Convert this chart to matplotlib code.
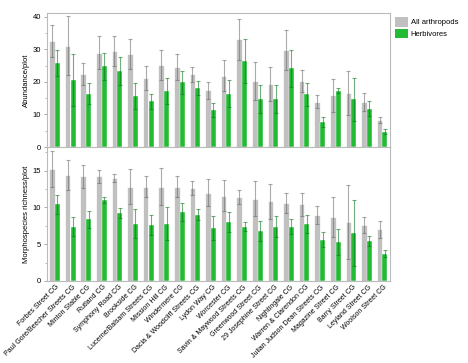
import matplotlib
matplotlib.use('Agg')
import matplotlib.pyplot as plt
import numpy as np
from matplotlib.ticker import MultipleLocator
from matplotlib.patches import Patch

plt.rcParams['font.family'] = ['Liberation Sans', 'DejaVu Sans']

sites = ['Forbes Street CG', 'Paul Gore/Beecher Streets CG', 'Minton Stable CG', 'Rutland CG',
         'Symphony Road CG', 'Brookside CG', 'Lucerne/Balsam Streets CG', 'Mission Hill CG',
         'Windermere CG', 'Dacia & Woodcliff Streets CG', 'Lydon Way CG', 'Worcester CG',
         'Savin & Maywood Streets CG', 'Greenwood Street CG', '29 Josephine Street CG',
         'Nightingale CG', 'Warren & Clarendon CG', 'Julian Judson Dean Streets CG',
         'Magazine Street CG', 'Barry Street CG', 'Leyland Street CG', 'Woolson Street CG']

# abundance per plot (mean, se)
abund_all = [32.5, 31.1, 22.4, 29.0, 29.5, 28.5, 21.3, 25.1, 24.5, 22.3, 17.4,
             21.9, 33.0, 20.2, 19.3, 29.7, 20.2, 13.9, 15.9, 16.5, 13.9, 8.3]
abund_all_se = [5.0, 9.0, 3.5, 5.1, 4.7, 4.7, 3.7, 4.6, 4.0, 2.4, 2.7,
                4.8, 6.4, 5.8, 5.3, 6.2, 3.4, 2.0, 5.0, 6.7, 2.7, 1.0]
abund_herb = [25.8, 20.7, 16.4, 24.8, 23.3, 15.8, 14.1, 17.2, 19.9, 18.1, 11.3,
              16.4, 26.5, 14.7, 14.7, 24.1, 16.2, 7.7, 17.3, 14.6, 11.7, 4.7]
abund_herb_se = [4.1, 8.0, 3.2, 4.2, 4.2, 4.0, 2.3, 4.1, 3.5, 2.1, 2.2,
                 4.1, 6.7, 4.3, 4.4, 5.8, 3.5, 1.5, 0.7, 6.6, 2.3, 0.85]

# morphospecies richness per plot (mean, se)
rich_all = [15.2, 14.4, 14.2, 14.2, 14.0, 12.8, 12.8, 12.8, 12.8, 12.6, 12.0,
            11.6, 11.4, 11.2, 10.8, 10.6, 10.4, 9.0, 8.7, 8.0, 7.6, 7.0]
rich_all_se = [2.4, 2.0, 1.6, 0.85, 0.5, 2.4, 1.4, 2.5, 1.4, 0.95, 1.8,
               2.1, 0.9, 2.4, 2.4, 1.3, 1.6, 1.2, 2.7, 5.0, 1.1, 1.1]
rich_herb = [10.4, 7.4, 8.4, 11.0, 9.2, 7.8, 7.6, 7.8, 9.4, 9.0, 7.2,
             8.0, 7.4, 6.8, 7.4, 7.4, 7.7, 5.6, 5.3, 6.5, 5.4, 3.7]
rich_herb_se = [1.3, 1.25, 1.15, 0.4, 0.7, 2.0, 1.3, 2.3, 1.2, 0.75, 1.6,
                1.35, 0.65, 1.4, 1.45, 1.0, 1.2, 1.05, 1.8, 4.5, 0.7, 0.45]

gray = '#c0c0c0'
green = '#22bb33'
spine_col = '#bbbbbb'

fig = plt.figure(figsize=(4.68, 3.63), dpi=100)
ax1 = fig.add_axes([0.0998, 0.595, 0.733, 0.368])
ax2 = fig.add_axes([0.0998, 0.226, 0.733, 0.369])

x = np.arange(len(sites))


def draw(ax, a, a_se, h, h_se, ymax, major, ylabel):
    ax.bar(x - 0.155, a, width=0.36, color=gray, edgecolor='white', linewidth=0.5, zorder=2)
    ax.bar(x + 0.19, h, width=0.32, color=green, edgecolor='white', linewidth=0.3, zorder=2)
    ax.errorbar(x - 0.155, a, yerr=a_se, fmt='none', ecolor='#666666', alpha=0.55,
                elinewidth=0.8, capsize=1.5, capthick=0.8, zorder=3)
    ax.errorbar(x + 0.19, h, yerr=h_se, fmt='none', ecolor='#117a22', alpha=0.6,
                elinewidth=0.8, capsize=1.2, capthick=0.8, zorder=3)
    ax.set_xlim(-0.5, len(sites) - 0.5)
    ax.set_ylim(0, ymax)
    ax.yaxis.set_major_locator(MultipleLocator(major))
    ax.yaxis.set_minor_locator(MultipleLocator(major / 2))
    ax.tick_params(axis='y', which='major', labelsize=5.5, length=2.5, width=0.5,
                   color='#888888', pad=1.5)
    ax.tick_params(axis='y', which='minor', length=1.5, width=0.4, color='#888888')
    ax.tick_params(axis='x', length=0)
    for s in ax.spines.values():
        s.set_color(spine_col)
        s.set_linewidth(0.8)
    ax.set_ylabel(ylabel, fontsize=5.5, labelpad=2)


draw(ax1, abund_all, abund_all_se, abund_herb, abund_herb_se, 41, 10, 'Abundance/plot')
draw(ax2, rich_all, rich_all_se, rich_herb, rich_herb_se, 18.2, 5, 'Morphospecies richness/plot')
ax1.set_xticks(x)
ax1.set_xticklabels([])
ax2.set_xticks(x + 0.1)
ax2.set_xticklabels(sites, rotation=45, ha='right', rotation_mode='anchor', fontsize=5)
ax2.tick_params(axis='x', pad=2)
ax2.set_yticks([0, 5, 10, 15])

handles = [Patch(facecolor=gray, label='All arthropods'), Patch(facecolor=green, label='Herbivores')]
fig.legend(handles=handles, loc='upper left', bbox_to_anchor=(0.838, 0.962), frameon=False,
           fontsize=5.5, handlelength=1.7, handleheight=1.6, handletextpad=0.3, labelspacing=0.25,
           borderaxespad=0)

fig.savefig('out.png', dpi=100)
